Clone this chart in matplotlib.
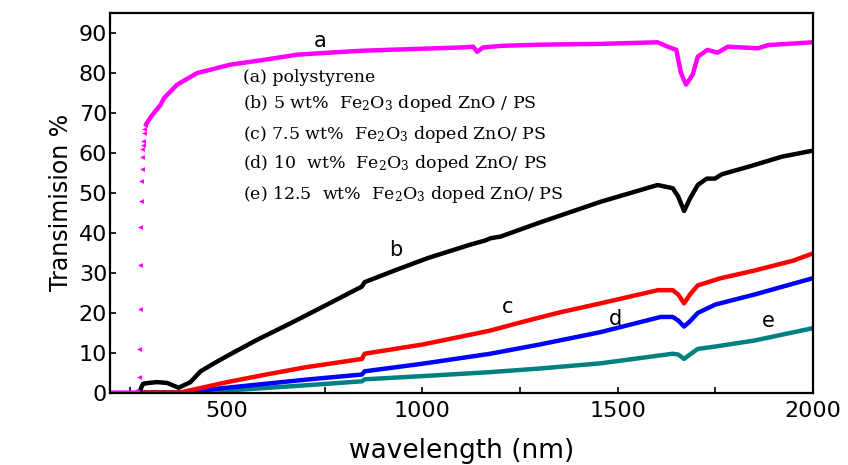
import matplotlib
matplotlib.use("Agg")
import matplotlib.pyplot as plt
from matplotlib.ticker import MultipleLocator, FuncFormatter

# (a) polystyrene: flat part, absorption edge (drawn as markers), rest of curve
wl_a_flat = [200, 268, 272]
tr_a_flat = [0, 0, 0.3]
wl_a_edge = [274, 275, 276, 277, 278, 279, 280, 281, 282, 283, 284, 285, 286, 288, 290]
tr_a_edge = [4, 11, 21, 31.8, 41.4, 48, 53, 56, 59, 61, 62, 63, 64.8, 66, 67]
wl_a = [292, 305, 330, 338, 372, 423, 508, 594, 679, 760, 849, 1000, 1100, 1130,
        1140, 1155, 1200, 1300, 1456, 1602, 1628, 1650, 1662, 1675, 1692, 1705,
        1730, 1756, 1782, 1859, 1885, 2000]
tr_a = [67, 69, 72, 73.6, 77, 79.9, 82, 83.2, 84.5, 85, 85.5, 86, 86.3, 86.5,
        85.2, 86.3, 86.7, 87, 87.2, 87.6, 86.5, 85.7, 79.9, 77, 79.5, 84,
        85.7, 85, 86.5, 86.1, 86.9, 87.6]

# (b) 5 wt%
wl_b = [276, 280, 285, 300, 320, 346, 376, 406, 432, 470, 503, 577, 662, 748, 845, 852,
        931, 1013, 1123, 1160, 1175, 1200, 1300, 1456, 1602, 1641, 1655, 1670,
        1685, 1705, 1728, 1749, 1767, 1836, 1921, 2000]
tr_b = [0, 1.2, 2.2, 2.4, 2.6, 2.4, 1.2, 2.6, 5.3, 7.5, 9.3, 13.2, 17.3, 21.6, 26.5, 27.6,
        30.6, 33.6, 37, 38.0, 38.6, 39, 42.5, 47.7, 51.9, 51.1, 49, 45.4,
        48.5, 51.9, 53.5, 53.5, 54.6, 56.5, 59, 60.5]

# (c) 7.5 wt%
wl_c = [280, 380, 500, 600, 700, 845, 852, 1000, 1100, 1174, 1250, 1350, 1456,
        1603, 1641, 1655, 1670, 1685, 1705, 1738, 1760, 1850, 1950, 2000]
tr_c = [0, 0, 2.6, 4.5, 6.3, 8.4, 9.7, 12, 14, 15.5, 17.5, 20, 22.3,
        25.6, 25.6, 24.5, 22.3, 24.5, 26.8, 27.8, 28.5, 30.5, 33, 34.8]

# (d) 10 wt%
wl_d = [280, 380, 500, 700, 845, 852, 1000, 1174, 1300, 1456, 1610, 1641, 1655,
        1670, 1685, 1705, 1750, 1850, 2000]
tr_d = [0, 0, 1.2, 3.2, 4.5, 5.3, 7.2, 9.7, 12, 15.1, 18.9, 18.9, 18,
        16.5, 17.8, 19.9, 22, 24.5, 28.6]

# (e) 12.5 wt%
wl_e = [280, 400, 500, 700, 845, 852, 1000, 1174, 1300, 1456, 1641, 1655, 1670,
        1685, 1705, 1750, 1850, 2000]
tr_e = [0, 0, 0.5, 1.8, 2.8, 3.3, 4.1, 5.1, 6, 7.3, 9.7, 9.5, 8.4,
        9.5, 10.9, 11.5, 13, 16.1]

curve_letters = ["a", "b", "c", "d", "e"]
letter_x = [738, 931, 1218, 1495, 1885]
letter_y = [88.0, 35.6, 21.3, 18.5, 18.0]

legend_lines = [
    "(a) polystyrene",
    r"(b) 5 wt%  $\mathregular{Fe_2O_3}$ doped ZnO / PS",
    r"(c) 7.5 wt%  $\mathregular{Fe_2O_3}$ doped ZnO/ PS",
    r"(d) 10  wt%  $\mathregular{Fe_2O_3}$ doped ZnO/ PS",
    r"(e) 12.5  wt%  $\mathregular{Fe_2O_3}$ doped ZnO/ PS",
]
legend_y = [77.7, 71.1, 63.4, 56.1, 48.5]

plt.rcParams["font.family"] = ["DejaVu Sans"]

fig = plt.figure(figsize=(8.48, 4.65), dpi=100)
ax = fig.add_axes([0.1297, 0.1559, 0.8290, 0.8168])

ax.plot(wl_e, tr_e, color="#008080", lw=3.2, solid_capstyle="round")
ax.plot(wl_d, tr_d, color="#0000ff", lw=3.2, solid_capstyle="round")
ax.plot(wl_c, tr_c, color="#ff0000", lw=3.2, solid_capstyle="round")
ax.plot(wl_b, tr_b, color="black", lw=3.2, solid_capstyle="round")
ax.plot(wl_a_flat, tr_a_flat, color="#ff00ff", lw=3)
ax.plot(wl_a_edge, tr_a_edge, color="#ff00ff", ls="none", marker="<", ms=3.5, mew=0)
ax.plot(wl_a, tr_a, color="#ff00ff", lw=3.2, solid_capstyle="round")

for letter, x, y in zip(curve_letters, letter_x, letter_y):
    ax.text(x, y, letter, fontsize=15, ha="center", va="center")

for line, y in zip(legend_lines, legend_y):
    ax.text(541, y, line, fontsize=12.5, family="DejaVu Serif", ha="left", va="baseline")

ax.set_xlim(200, 2000)
ax.set_ylim(0, 95)
ax.xaxis.set_major_locator(MultipleLocator(250))
ax.xaxis.set_major_formatter(FuncFormatter(lambda v, p: f"{v:.0f}" if v % 500 == 0 else ""))
ax.yaxis.set_major_locator(MultipleLocator(10))
ax.tick_params(axis="both", direction="in", length=4, width=1.2, labelsize=16)
ax.tick_params(axis="x", pad=6)
ax.tick_params(axis="y", pad=2)
for s in ax.spines.values():
    s.set_linewidth(1.6)

ax.set_xlabel("wavelength (nm)", fontsize=19, labelpad=12)
ax.set_ylabel("Transimision %", fontsize=17, labelpad=4)

fig.savefig("out.png", dpi=100)
